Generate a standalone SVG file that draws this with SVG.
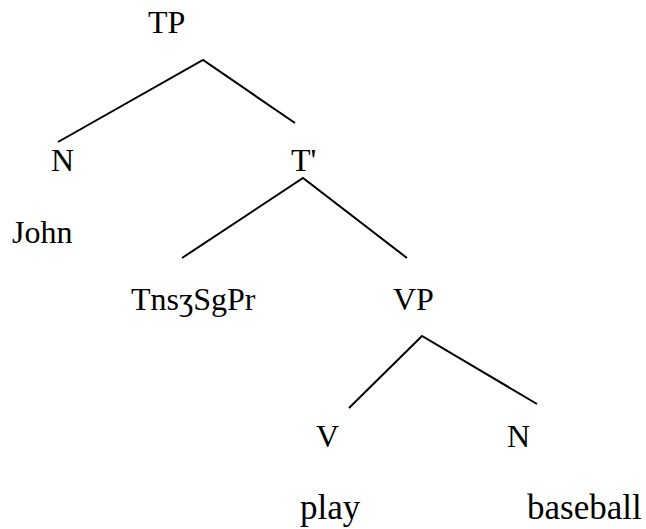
<svg xmlns="http://www.w3.org/2000/svg" width="646" height="529" viewBox="0 0 646 529">
<style>
text{font-family:"Liberation Serif","Times New Roman",serif;fill:#000}
.lab{font-size:32px}
.leaf{font-size:32px}
.big{font-size:35px}
.edge{stroke:#000;stroke-width:2;fill:none;stroke-linecap:butt}
</style>
<rect width="646" height="529" fill="#fff"/>
<g id="connectors">
<polyline class="edge" points="58,142 203,60 295,123"/>
<polyline class="edge" points="182,258 303,178 407,258"/>
<polyline class="edge" points="349,408 422,336 537,404"/>
</g>
<g id="n-TP"><text class="lab" x="148" y="33">TP</text></g>
<g id="n-N1"><text class="lab" x="51" y="171">N</text></g>
<g id="n-John"><text class="leaf" x="12" y="243">John</text></g>
<g id="n-Tbar"><text class="lab" x="291" y="171">T'</text></g>
<g id="n-Tns"><text class="leaf" x="131" y="310">TnsʒSgPr</text></g>
<g id="n-VP"><text class="lab" x="393" y="310">VP</text></g>
<g id="n-V"><text class="lab" x="316" y="447">V</text></g>
<g id="n-N2"><text class="lab" x="507" y="447">N</text></g>
<g id="n-play"><text class="big" x="300" y="519">play</text></g>
<g id="n-baseball"><text class="big" x="527" y="519">baseball</text></g>
</svg>
